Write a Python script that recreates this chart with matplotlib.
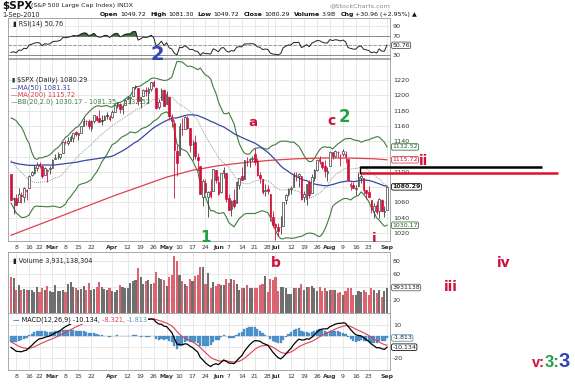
import numpy as np
import pandas as pd
import matplotlib
matplotlib.use("Agg")
import matplotlib.pyplot as plt
from matplotlib.transforms import blended_transform_factory

# ---------------- data ----------------
holidays = ["2010-02-15", "2010-04-02", "2010-05-31", "2010-07-05"]
dates = pd.bdate_range("2010-02-04", "2010-09-01", freq="C", holidays=holidays)

# closes before the visible window (used only to warm up the indicators)
warmup_close = [1042.88, 1045.41, 1046.50, 1066.63, 1069.30, 1093.08, 1093.01, 1098.51, 1087.24, 1093.48,
                1109.30, 1110.32, 1109.80, 1094.90, 1091.38, 1106.24, 1105.65, 1110.63, 1091.49, 1095.63,
                1108.86, 1109.24, 1099.92, 1105.98, 1103.25, 1091.94, 1095.95, 1102.35, 1106.41, 1114.11,
                1107.93, 1109.18, 1096.08, 1102.47, 1114.05, 1118.02, 1120.59, 1126.48, 1127.78, 1126.20,
                1126.42, 1115.10, 1132.99, 1136.52, 1137.14, 1141.69, 1144.98, 1146.98, 1136.22, 1145.68,
                1148.46, 1136.03, 1150.23, 1138.04, 1116.48, 1091.76, 1096.78, 1092.17, 1097.50, 1084.53,
                1073.87, 1089.19, 1103.32, 1097.28]

open_ = [1097.25, 1064.12,
         1065.51, 1060.06, 1069.68, 1067.10, 1075.95,
         1079.13, 1096.14, 1099.03, 1105.49,
         1110.00, 1107.49, 1095.89, 1101.24, 1103.10,
         1105.36, 1117.01, 1119.36, 1119.12, 1125.12,
         1138.40, 1137.56, 1140.22, 1143.96, 1151.71,
         1148.53, 1150.83, 1159.94, 1166.13, 1166.68,
         1157.25, 1166.47, 1172.70, 1170.03, 1167.58,
         1167.71, 1173.75, 1171.75, 1171.23,
         1178.71, 1186.01, 1188.23, 1181.75, 1187.47,
         1194.94, 1195.94, 1198.69, 1210.77, 1210.17,
         1192.06, 1199.04, 1207.16, 1202.52, 1207.87,
         1217.07, 1209.92, 1184.59, 1193.30, 1206.77,
         1188.58, 1197.50, 1169.24, 1164.38, 1127.04,
         1122.27, 1156.39, 1155.43, 1170.04, 1157.19,
         1136.52, 1138.78, 1119.57, 1107.34, 1067.26,
         1084.78, 1067.42, 1075.51, 1074.27, 1102.59,
         1087.30, 1073.01, 1098.82, 1098.43,
         1065.84, 1050.81, 1062.75, 1058.77, 1082.65,
         1095.00, 1091.21, 1114.02, 1115.98, 1116.16,
         1122.79, 1113.90, 1095.57, 1090.93, 1075.10,
         1077.50, 1071.10, 1040.56, 1031.10, 1027.65,
         1028.09, 1028.54, 1062.92, 1070.50,
         1077.23, 1080.65, 1095.61, 1094.46, 1093.85,
         1066.85, 1064.53, 1086.67, 1072.14, 1092.17,
         1102.89, 1117.36, 1112.84, 1108.07, 1098.44,
         1107.53, 1125.34, 1121.06, 1125.78, 1122.07,
         1122.80, 1122.92, 1116.89, 1081.48, 1082.22,
         1077.49, 1081.16, 1092.08, 1092.44, 1075.63,
         1073.36, 1063.20, 1048.98, 1056.28, 1049.27,
         1062.90, 1046.88, 1049.72]

high = [1097.25, 1067.13,
        1071.20, 1079.28, 1073.67, 1080.04, 1077.81,
        1095.67, 1101.03, 1108.24, 1112.42,
        1112.29, 1108.58, 1106.42, 1103.50, 1107.24,
        1116.11, 1123.46, 1125.64, 1123.73, 1139.38,
        1141.05, 1145.37, 1148.26, 1150.24, 1153.41,
        1150.98, 1160.28, 1169.84, 1167.77, 1169.20,
        1167.82, 1174.72, 1173.04, 1180.69, 1173.93,
        1174.85, 1177.83, 1174.56, 1181.43,
        1187.73, 1191.80, 1189.60, 1188.55, 1194.66,
        1199.20, 1199.04, 1210.65, 1213.92, 1210.17,
        1197.87, 1208.58, 1210.99, 1210.27, 1217.28,
        1219.80, 1211.38, 1195.05, 1209.36, 1207.99,
        1205.13, 1197.50, 1175.95, 1167.58, 1135.13,
        1163.85, 1170.48, 1172.87, 1173.57, 1157.19,
        1141.88, 1148.66, 1124.27, 1107.34, 1090.16,
        1089.95, 1074.75, 1090.75, 1103.52, 1102.59,
        1094.77, 1098.56, 1105.67, 1098.43,
        1071.36, 1063.15, 1077.74, 1087.85, 1092.25,
        1105.91, 1115.59, 1118.74, 1117.72, 1121.01,
        1131.23, 1118.50, 1099.64, 1090.93, 1083.56,
        1082.60, 1071.10, 1048.08, 1033.58, 1032.95,
        1042.50, 1060.89, 1071.25, 1078.16,
        1080.78, 1099.46, 1099.08, 1098.66, 1093.85,
        1074.70, 1083.94, 1088.96, 1097.50, 1103.73,
        1115.01, 1120.95, 1114.66, 1115.90, 1106.44,
        1127.30, 1125.44, 1128.75, 1126.56, 1123.06,
        1129.24, 1127.16, 1116.89, 1086.72, 1086.25,
        1082.62, 1100.14, 1099.77, 1092.44, 1075.63,
        1081.58, 1063.20, 1059.38, 1061.45, 1065.21,
        1064.40, 1055.14, 1081.30]

low = [1062.78, 1044.50,
       1056.51, 1060.06, 1059.34, 1060.59, 1062.97,
       1079.13, 1094.72, 1097.48, 1100.80,
       1105.38, 1092.18, 1095.50, 1086.02, 1097.56,
       1105.36, 1116.51, 1116.58, 1116.66, 1125.12,
       1136.77, 1134.90, 1140.09, 1138.99, 1146.97,
       1141.45, 1150.35, 1159.94, 1161.16, 1155.33,
       1152.88, 1163.83, 1166.01, 1165.09, 1161.48,
       1167.71, 1168.92, 1165.77, 1170.69,
       1178.71, 1182.77, 1177.25, 1175.12, 1187.15,
       1194.71, 1188.82, 1198.69, 1208.50, 1186.77,
       1183.68, 1199.04, 1198.85, 1190.19, 1205.10,
       1211.07, 1181.62, 1181.81, 1193.30, 1186.32,
       1188.58, 1168.12, 1158.15, 1065.79, 1094.15,
       1122.27, 1147.71, 1155.43, 1156.14, 1126.14,
       1114.96, 1117.20, 1100.66, 1071.58, 1055.90,
       1072.70, 1040.78, 1065.59, 1074.27, 1084.78,
       1069.89, 1072.03, 1091.81, 1060.50,
       1049.86, 1042.17, 1052.25, 1058.77, 1077.12,
       1089.03, 1091.21, 1107.13, 1105.87, 1113.93,
       1108.24, 1094.18, 1085.31, 1071.60, 1067.89,
       1071.45, 1035.18, 1028.33, 1010.91, 1015.93,
       1018.35, 1028.54, 1058.24, 1068.10,
       1070.45, 1080.65, 1087.68, 1080.53, 1063.32,
       1061.11, 1056.88, 1065.25, 1072.14, 1087.88,
       1101.30, 1109.78, 1103.11, 1092.82, 1088.01,
       1107.53, 1116.76, 1119.46, 1118.81, 1107.17,
       1120.91, 1111.58, 1088.55, 1076.69, 1079.00,
       1069.49, 1081.16, 1085.76, 1070.66, 1063.91,
       1067.08, 1046.68, 1039.83, 1045.40, 1039.70,
       1048.79, 1040.88, 1049.72]

close = [1063.11, 1066.19,
         1056.74, 1070.52, 1068.13, 1078.47, 1075.51,
         1094.87, 1099.51, 1106.75, 1109.17,
         1108.01, 1094.60, 1105.24, 1102.94, 1104.49,
         1115.71, 1118.31, 1118.79, 1122.97, 1138.70,
         1138.50, 1140.45, 1145.61, 1150.24, 1149.99,
         1150.51, 1159.46, 1166.21, 1165.83, 1159.90,
         1165.81, 1174.17, 1167.72, 1165.73, 1166.59,
         1173.22, 1173.27, 1169.43, 1178.10,
         1187.44, 1189.44, 1182.45, 1186.44, 1194.37,
         1196.48, 1197.30, 1210.65, 1211.67, 1192.13,
         1197.52, 1207.17, 1205.94, 1208.67, 1217.28,
         1212.05, 1183.71, 1191.36, 1206.78, 1186.69,
         1202.26, 1173.60, 1165.87, 1128.15, 1110.88,
         1159.73, 1155.79, 1171.67, 1157.44, 1135.68,
         1136.94, 1120.80, 1115.05, 1071.59, 1087.69,
         1073.65, 1074.03, 1067.95, 1103.06, 1089.41,
         1070.71, 1098.38, 1102.83, 1064.88,
         1050.47, 1062.00, 1055.69, 1086.84, 1091.60,
         1089.63, 1115.23, 1114.61, 1116.04, 1117.51,
         1113.20, 1095.31, 1092.04, 1073.69, 1076.76,
         1074.57, 1041.24, 1030.71, 1027.37, 1022.58,
         1028.06, 1060.27, 1070.25, 1077.96,
         1078.75, 1095.34, 1095.17, 1096.48, 1064.88,
         1071.25, 1083.48, 1069.59, 1093.67, 1102.66,
         1115.01, 1113.84, 1106.13, 1101.53, 1101.60,
         1125.86, 1120.46, 1127.24, 1125.81, 1121.64,
         1127.79, 1121.06, 1089.47, 1083.61, 1079.25,
         1079.38, 1092.54, 1094.16, 1075.63, 1071.69,
         1067.36, 1051.87, 1055.33, 1047.22, 1064.59,
         1048.92, 1049.33, 1080.29]

volume_b = [5.6, 5.4,
            3.5, 4.3, 3.6, 3.7, 3.5,
            3.5, 3.6, 3.3, 4.0,
            3.2, 3.8, 3.5, 4.1, 3.4,
            3.3, 4.3, 3.4, 3.4, 3.5,
            3.2, 4.4, 4.8, 4.0, 3.9,
            3.5, 3.7, 4.2, 3.6, 4.7,
            3.6, 3.7, 4.0, 4.8, 4.0,
            3.7, 3.5, 3.8, 3.4,
            3.3, 3.5, 4.3, 4.0, 3.8,
            3.9, 4.6, 4.9, 5.1, 6.9,
            5.6, 4.5, 4.9, 5.1, 4.5,
            4.6, 6.3, 5.4, 5.2, 5.1,
            4.2, 5.6, 5.8, 8.8, 8.0,
            5.9, 5.0, 4.4, 4.1, 5.2,
            5.0, 5.7, 5.8, 7.1, 7.1,
            4.4, 6.2, 3.8, 4.8, 4.1,
            4.5, 4.3, 4.3, 5.3,
            4.6, 5.3, 5.1, 4.4, 3.5,
            3.8, 3.9, 4.3, 3.9, 3.9,
            3.8, 3.8, 4.3, 4.5, 5.7,
            3.3, 5.2, 5.1, 5.5, 3.4,
            4.0, 4.0, 3.9, 3.0,
            2.9, 3.9, 3.8, 3.9, 4.5,
            3.5, 4.0, 4.0, 4.1, 3.8,
            3.4, 4.0, 3.4, 3.9, 3.4,
            3.5, 3.5, 3.5, 3.1, 3.3,
            2.7, 3.4, 3.8, 3.8, 2.8,
            2.7, 3.4, 3.2, 3.6, 3.2,
            2.7, 3.8, 3.6, 3.1, 3.5,
            2.5, 3.4, 3.93]

# 200-day moving average at sample bars
ma200_bar = [0, 10, 20, 30, 40, 50, 60, 70, 80, 90, 100, 110, 120, 130, 140, 145]
ma200_val = [1017, 1030, 1043, 1056, 1069, 1081, 1093, 1102, 1108, 1112, 1115, 1117, 1118, 1118, 1117, 1115.72]

xtick_dates = ["2010-02-08", "2010-02-16", "2010-02-22", "2010-03-01", "2010-03-08", "2010-03-15",
               "2010-03-22", "2010-04-01", "2010-04-12", "2010-04-19", "2010-04-26", "2010-05-03",
               "2010-05-10", "2010-05-17", "2010-05-24", "2010-06-01", "2010-06-07", "2010-06-14",
               "2010-06-21", "2010-06-28", "2010-07-01", "2010-07-12", "2010-07-19", "2010-07-26",
               "2010-08-02", "2010-08-09", "2010-08-16", "2010-08-23", "2010-09-01"]
xtick_labels = ["8", "16", "22", "Mar", "8", "15", "22", "Apr", "12", "19", "26", "May", "10", "17", "24",
                "Jun", "7", "14", "21", "28", "Jul", "12", "19", "26", "Aug", "9", "16", "23", "Sep"]
month_names = {"Mar", "Apr", "May", "Jun", "Jul", "Aug", "Sep"}

price_ticks = [1020, 1040, 1060, 1080, 1100, 1120, 1140, 1160, 1180, 1200, 1220]
price_tick_labels = ["1020", "1040", "1060", "", "1100", "", "1140", "1160", "1180", "1200", "1220"]
hline_levels = [1106.3, 1098.4]
hline_start = "2010-08-18"

# ---------------- indicators ----------------
n = len(close)
nw = len(warmup_close)
allc = pd.Series(warmup_close + close, dtype=float)
ma50 = allc.rolling(50).mean().values[nw:]
sma20 = allc.rolling(20).mean()
sd20 = allc.rolling(20).std(ddof=0)
bb_up = (sma20 + 2 * sd20).values[nw:]
bb_lo = (sma20 - 2 * sd20).values[nw:]
bb_mid = sma20.values[nw:]
ema12 = allc.ewm(span=12, adjust=False).mean()
ema26 = allc.ewm(span=26, adjust=False).mean()
macd_s = ema12 - ema26
sig_s = macd_s.ewm(span=9, adjust=False).mean()
macd = macd_s.values[nw:]
sig = sig_s.values[nw:]
hist = macd - sig
d = allc.diff()
ag = d.clip(lower=0).ewm(alpha=1 / 14, adjust=False).mean()
al = (-d.clip(upper=0)).ewm(alpha=1 / 14, adjust=False).mean()
rsi = (100 - 100 / (1 + ag / al)).values[nw:]
prev = allc.shift(1).values[nw:]

o = np.array(open_); h = np.array(high); l = np.array(low); c = np.array(close)
v = np.array(volume_b)
x = np.arange(n)

dpos = {dt.strftime("%Y-%m-%d"): i for i, dt in enumerate(dates)}
xt = [dpos.get(s, 0) for s in xtick_dates]

# ---------------- figure ----------------
W, H = 575, 384
plt.rcParams['font.family'] = ['DejaVu Sans']
fig = plt.figure(figsize=(W / 100, H / 100), dpi=100)

def rect(top, bottom, left=8, right=390):
    return [left / W, 1 - bottom / H, (right - left) / W, (bottom - top) / H]

def ftext(px, py, s, **kw):
    return fig.text(px / W, 1 - py / H, s, **kw)

ax_r = fig.add_axes(rect(18, 58))
ax_p = fig.add_axes(rect(59, 241))
ax_v = fig.add_axes(rect(252, 313))
ax_m = fig.add_axes(rect(313, 370))

GRID = '#dedede'
XL = (-1.16, 146.16)
for ax in (ax_r, ax_p, ax_v, ax_m):
    ax.set_xlim(*XL)
    ax.set_xticks(xt)
    ax.yaxis.tick_right()
    ax.tick_params(axis='both', length=0, labelsize=4.6, labelcolor='#333333', pad=2)
    ax.grid(True, color=GRID, lw=0.5, zorder=0)
    ax.set_axisbelow(True)
    for sp in ax.spines.values():
        sp.set_color('#9a9a9a'); sp.set_linewidth(0.6)
    ax.set_xticklabels([])

def side_box(ax, val, s, ec, tc='#222222', bold=False):
    tr = blended_transform_factory(ax.transAxes, ax.transData)
    ax.text(1.006, val, s, transform=tr, fontsize=4.5, va='center', ha='left', color=tc,
            fontweight='bold' if bold else 'normal', zorder=6, clip_on=False,
            bbox=dict(boxstyle='round,pad=0.12,rounding_size=0.25', fc='white', ec=ec, lw=0.6))

RED = '#d0103a'
DARK = '#3a3a3a'
up = c >= prev
cols = np.where(up, DARK, RED)

# ---- RSI ----
ax_r.set_ylim(23.6, 107)
ax_r.set_yticks([30, 50, 70, 90])
ax_r.set_yticklabels(['30', '', '70', '90'])
ax_r.axhline(70, color='#8a8a8a', lw=0.7, zorder=1)
ax_r.axhline(30, color='#8a8a8a', lw=0.7, zorder=1)
ax_r.axhline(50, color='#8a8a8a', lw=0.6, ls=(0, (4, 2)), zorder=1)
ax_r.fill_between(x, 70, rsi, where=rsi > 70, color='#3f6f3f', interpolate=True, zorder=2)
ax_r.fill_between(x, 30, rsi, where=rsi < 30, color='#3f6f3f', interpolate=True, zorder=2)
ax_r.plot(x, rsi, color='#222222', lw=0.7, zorder=3)
side_box(ax_r, 50, '50.76', '#555555')
ax_r.text(0.012, 0.93, '\u25AE RSI(14) 50.76', transform=ax_r.transAxes, fontsize=4.7, va='top',
          ha='left', color='#222222')

# ---- price ----
ax_p.set_ylim(1009.5, 1247.5)
ax_p.set_yticks(price_ticks)
ax_p.set_yticklabels(price_tick_labels)
ax_p.plot(x, bb_up, color='#3e7d3e', lw=0.8, zorder=2)
ax_p.plot(x, bb_lo, color='#3e7d3e', lw=0.8, zorder=2)
ax_p.plot(x, bb_mid, color='#7a9a7a', lw=0.6, ls=(0, (1.2, 1.2)), zorder=2)
ax_p.plot(x, ma50, color='#3848a0', lw=0.9, zorder=2)
ax_p.plot(ma200_bar, ma200_val, color='#e0404e', lw=0.9, zorder=2)
ax_p.vlines(x, l, h, colors=cols, lw=0.6, zorder=3)
body_bot = np.minimum(o, c)
body_h = np.maximum(np.abs(c - o), 0.4)
face = np.where(c < o, cols, 'white')
ax_p.bar(x, body_h, bottom=body_bot, width=0.62, color=list(face), edgecolor=list(cols),
         linewidth=0.5, zorder=4)
ax_p.set_xticklabels(xtick_labels)
for lab in ax_p.get_xticklabels():
    if lab.get_text() in month_names:
        lab.set_fontweight('bold')
ax_p.tick_params(axis='x', pad=2.8, labelsize=4.4)

side_box(ax_p, 1132.52, '1132.52', '#3e7d3e', tc='#2e5e2e')
side_box(ax_p, 1115.72, '1115.72', '#e0404e', tc='#b02030')
side_box(ax_p, 1080.29, '1080.29', '#111111', bold=True)
side_box(ax_p, 1030.17, '1030.17', '#3e7d3e', tc='#2e5e2e')

# horizontal levels extending to the right
xs0 = dpos.get(hline_start, 135) - 0.3
ax_p.plot([xs0, 204.8], [hline_levels[0]] * 2, color='black', lw=1.8, clip_on=False, zorder=7,
          solid_capstyle='butt')
ax_p.plot([xs0, 211.0], [hline_levels[1]] * 2, color='#e0102a', lw=1.8, clip_on=False, zorder=7,
          solid_capstyle='butt')
ax_p.plot([xs0, xs0], [hline_levels[0], hline_levels[0] - 8], color='black', lw=1.0, zorder=7)

# price legend
ftext(11, 80, '\u25AE', fontsize=4.4, va='center', color='#333333')
ftext(17, 80, '$SPX (Daily) 1080.29', fontsize=4.8, va='center', color='#222222')
ftext(11, 87.5, '\u2014MA(50) 1081.31', fontsize=4.8, va='center', color='#3848a0')
ftext(11, 94.5, '\u2014MA(200) 1115.72', fontsize=4.8, va='center', color='#e0404e')
ftext(11, 101.5, '\u2014BB(20,2.0) 1030.17 - 1081.35 - 1132.52', fontsize=4.8, va='center',
      color='#3e7d3e')

# ---- volume ----
ax_v.set_ylim(0, 9.41)
ax_v.set_yticks([2, 4, 6, 8])
ax_v.set_yticklabels(['20', '', '60', '80'])
vcols = np.where(up, '#6f6f6f', '#dc6470')
ax_v.bar(x, v, width=0.82, color=list(vcols), linewidth=0, zorder=3)
side_box(ax_v, 3.93, '3931138', '#666666')
ax_v.text(0.012, 0.90, '\u25AE Volume 3,931,138,304', transform=ax_v.transAxes, fontsize=4.7,
          va='top', ha='left', color='#222222', zorder=6)

# ---- MACD ----
ax_m.set_ylim(-30.9, 20.9)
ax_m.set_yticks([-20, -10, 0, 10])
ax_m.set_yticklabels(['-20', '', '', '10'])
ax_m.bar(x, hist, width=0.85, color='#4f94cc', edgecolor='#3a7fb8', linewidth=0.2, zorder=2)
ax_m.plot(x, sig, color='#e04050', lw=0.8, zorder=3)
ax_m.plot(x, macd, color='black', lw=0.9, zorder=4)
side_box(ax_m, -1.813, '-1.813', '#4f94cc')
side_box(ax_m, -10.134, '-10.134', '#111111')
ax_m.set_xticklabels(xtick_labels)
for lab in ax_m.get_xticklabels():
    if lab.get_text() in month_names:
        lab.set_fontweight('bold')
ax_m.tick_params(axis='x', pad=3, labelsize=4.4)
t = ax_m.text(0.012, 0.93, '\u2014 MACD(12,26,9) -10.134, ', transform=ax_m.transAxes, fontsize=4.7,
              va='top', ha='left', color='#111111', zorder=8,
              bbox=dict(boxstyle='square,pad=0.1', fc='white', ec='none'))
fig.canvas.draw()
renderer = fig.canvas.get_renderer()
inv = ax_m.transAxes.inverted()
x1 = inv.transform((t.get_window_extent(renderer=renderer).x1, 0))[0]
t2 = ax_m.text(x1, 0.93, '-8.321, ', transform=ax_m.transAxes, fontsize=4.7, va='top', ha='left',
               color='#e04050', zorder=8, bbox=dict(boxstyle='square,pad=0.1', fc='white', ec='none'))
x2 = inv.transform((t2.get_window_extent(renderer=renderer).x1, 0))[0]
ax_m.text(x2, 0.93, '-1.813', transform=ax_m.transAxes, fontsize=4.7, va='top', ha='left',
          color='#4f94cc', zorder=8, bbox=dict(boxstyle='square,pad=0.1', fc='white', ec='none'))

# ---------------- header ----------------
ftext(2, 6, '$SPX', fontsize=7.5, fontweight='bold', va='center', color='#111111')
ftext(31, 6, '(S&P 500 Large Cap Index) INDX', fontsize=4.5, va='center', color='#222222')
ftext(390, 6, '@StockCharts.com', fontsize=4.6, va='center', ha='right', color='#888888')
ftext(2, 14.5, '1-Sep-2010', fontsize=4.7, va='center', color='#222222')

hdr = [('Open', True), ('1049.72', False), ('High', True), ('1081.30', False),
       ('Low', True), ('1049.72', False), ('Close', True), ('1080.29', False),
       ('Volume', True), ('3.9B', False), ('Chg', True), ('+30.96 (+2.95%)', False), ('\u25B2', False)]
gaps = [1.5, 4.5, 1.5, 4.5, 1.5, 4.5, 1.5, 4.5, 1.5, 4.5, 1.5, 1.5, 0]
cur = 100.0
for (s, b), g in zip(hdr, gaps):
    tt = ftext(cur, 14.5, s, fontsize=4.5, va='center', color='#111111',
               fontweight='bold' if b else 'normal')
    cur += tt.get_window_extent(renderer=renderer).width + g

# ---------------- wave annotations ----------------
BLUE = '#3342b5'
GREEN = '#22a045'
ftext(157, 55, '2', fontsize=14, fontweight='bold', color=BLUE, ha='center', va='center')
ftext(253, 122, 'a', fontsize=9.5, fontweight='bold', color=RED, ha='center', va='center')
ftext(332, 121, 'c', fontsize=10, fontweight='bold', color=RED, ha='center', va='center')
ftext(344, 117, '2', fontsize=12, fontweight='bold', color=GREEN, ha='center', va='center')
ftext(423, 161, 'ii', fontsize=10, fontweight='bold', color=RED, ha='center', va='center')
ftext(206, 237.5, '1', fontsize=11, fontweight='bold', color=GREEN, ha='center', va='center')
ftext(374, 238.5, 'i', fontsize=9.5, fontweight='bold', color=RED, ha='center', va='center')
ftext(276, 263, 'b', fontsize=10, fontweight='bold', color=RED, ha='center', va='center')
ftext(504, 263, 'iv', fontsize=10, fontweight='bold', color=RED, ha='center', va='center')
ftext(451, 287, 'iii', fontsize=10, fontweight='bold', color=RED, ha='center', va='center')

# "v:3:3"
WF = ['Liberation Sans', 'DejaVu Sans']
ftext(532, 367, 'v:', fontsize=10.5, fontweight='bold', color=RED, ha='left', va='baseline', family=WF)
ftext(545, 367, '3:', fontsize=12, fontweight='bold', color=GREEN, ha='left', va='baseline', family=WF)
ftext(570, 367, '3', fontsize=14.5, fontweight='bold', color=BLUE, ha='right', va='baseline', family=WF)

fig.savefig('out.png', dpi=100)
